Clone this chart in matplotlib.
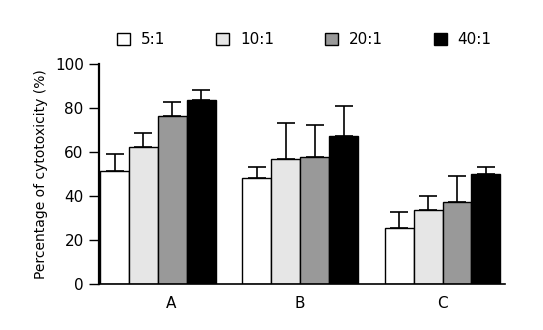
import matplotlib
matplotlib.use("Agg")
import matplotlib.pyplot as plt
import matplotlib.transforms as mtransforms
import numpy as np

groups = ["A", "B", "C"]
series = ["5:1", "10:1", "20:1", "40:1"]
values = {
    "5:1":  [51.5, 48.0, 25.3],
    "10:1": [62.1, 56.7, 33.5],
    "20:1": [76.2, 57.6, 37.1],
    "40:1": [83.6, 67.3, 49.9],
}
errors = {
    "5:1":  [7.7, 5.0, 7.6],
    "10:1": [6.4, 16.4, 6.4],
    "20:1": [6.7, 14.7, 11.9],
    "40:1": [4.4, 13.6, 3.1],
}
colors = ["#ffffff", "#e6e6e6", "#999999", "#000000"]
yticks = [0, 20, 40, 60, 80, 100]

plt.rcParams["font.family"] = ["DejaVu Sans"]
fig = plt.figure(figsize=(5.43, 3.30), dpi=100)
ax = fig.add_axes([0.1823, 0.1394, 0.930 - 0.1823, 0.6667])

x = np.arange(len(groups))
w = 0.203
for i, s in enumerate(series):
    off = (i - 1.5) * w
    v = np.array(values[s])
    e = np.array(errors[s])
    ax.errorbar(x + off, v, yerr=[np.zeros_like(e), e], fmt="none",
                ecolor="black", elinewidth=1.2, capsize=6.5, capthick=1.2, zorder=1)
    ax.bar(x + off, v, width=w, color=colors[i], edgecolor="black",
           linewidth=1.0, label=s, zorder=2)

ax.set_xlim(-0.4136, 2.439)
ax.set_ylim(0, 100)
ax.set_yticks(yticks)
ax.set_yticklabels([str(t) for t in yticks], fontsize=11)
ax.set_xticks(x)
ax.set_xticklabels(groups, fontsize=11)
ax.tick_params(axis="x", length=0, pad=9)
ax.tick_params(axis="y", length=7, width=1.0, pad=4, direction="out")
# shift the "A" label slightly right as in the reference
lbl = ax.get_xticklabels()[0]
lbl.set_transform(lbl.get_transform() + mtransforms.ScaledTranslation(13/100, 0, fig.dpi_scale_trans))

for sp in ["top", "right"]:
    ax.spines[sp].set_visible(False)
ax.spines["left"].set_linewidth(1.6)
ax.spines["bottom"].set_linewidth(1.2)

ax.set_ylabel("Percentage of cytotoxicity (%)", fontsize=10, labelpad=5)

fig.legend(loc="center left", bbox_to_anchor=(117/543, 1 - 40/330), ncol=4,
           frameon=False, fontsize=11, handlelength=0.85, handleheight=0.85,
           handletextpad=0.7, columnspacing=3.35, borderpad=0, borderaxespad=0)

fig.savefig("out.png", dpi=100)
